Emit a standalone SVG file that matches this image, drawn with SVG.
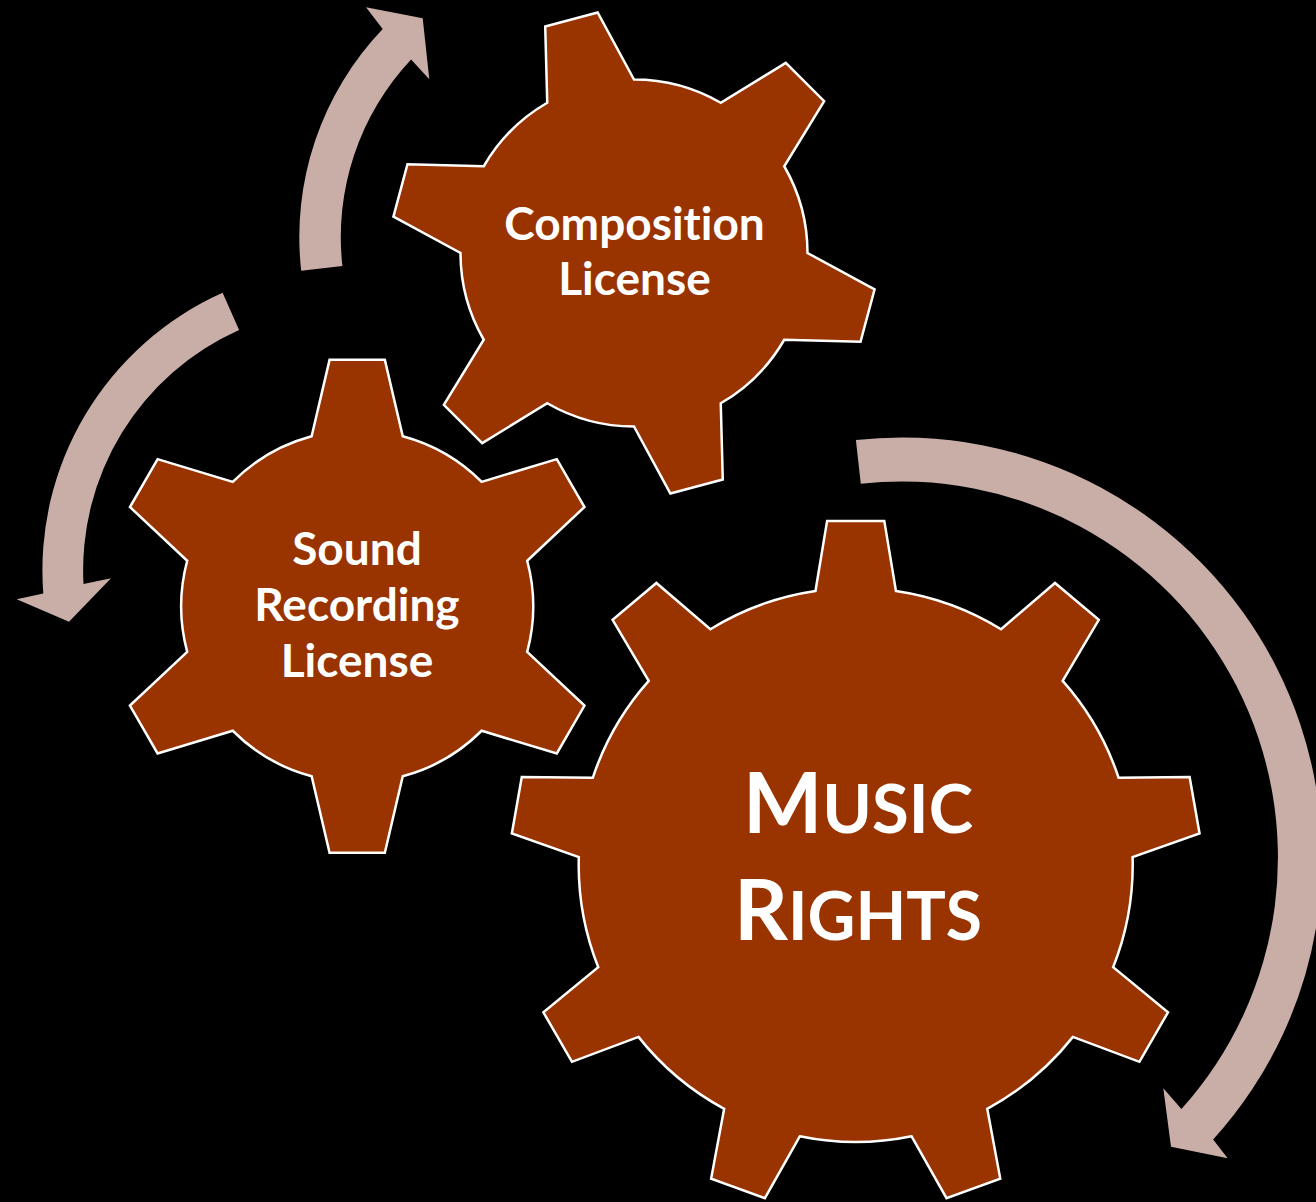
<svg xmlns="http://www.w3.org/2000/svg" width="1316" height="1202" viewBox="0 0 1316 1202">
<style>
.gear{fill:#993300;stroke:#ffffff;stroke-width:2.5;stroke-linejoin:miter}
.arrow{fill:#C9AEA8;stroke:none}
.lbl{font-family:Lato,"Open Sans","Liberation Sans",sans-serif;font-weight:700;fill:#ffffff;text-anchor:middle;font-variant-ligatures:none;font-feature-settings:"liga" 0,"clig" 0}
</style>
<rect x="0" y="0" width="1316" height="1202" fill="#000000"/>
<g id="connectors">
<path class="arrow" d="M855.9,440 A420,420 0 0 1 1213.1,1139.6 L1227.7,1158.3 L1171,1146.7 L1163.3,1088.3 L1181.4,1109.1 A376,376 0 0 0 860.8,483.8 Z"/>
<path class="arrow" d="M301.2,270.7 A301,301 0 0 1 382.7,29.1 L366,7.3 L422.7,18.3 L429.3,79.3 L411.1,59.5 A259.5,259.5 0 0 0 342.4,266 Z"/>
<path class="arrow" d="M222.6,292.8 A303.7,303.7 0 0 0 43.3,593.5 L16.7,599.3 L69,621.7 L111,578.3 L83.5,584 A263,263 0 0 1 239.1,329.9 Z"/>
</g>
<g id="gear-composition">
<path class="gear" d="M547.25,102.75 L545.22,26.47 L597.62,12.43 L634,79.5 A173.5,173.5 0 0 1 720.75,102.75 L785.79,62.86 L824.14,101.21 L784.25,166.25 A173.5,173.5 0 0 1 807.5,253 L874.57,289.38 L860.53,341.78 L784.25,339.75 A173.5,173.5 0 0 1 720.75,403.25 L722.78,479.53 L670.38,493.57 L634,426.5 A173.5,173.5 0 0 1 547.25,403.25 L482.21,443.14 L443.86,404.79 L483.75,339.75 A173.5,173.5 0 0 1 460.5,253 L393.43,216.62 L407.47,164.22 L483.75,166.25 A173.5,173.5 0 0 1 547.25,102.75 Z"/>
<text class="lbl" font-size="46"><tspan x="634.5" y="239.5">Composition</tspan><tspan x="634.5" y="295">License</tspan></text>
</g>
<g id="gear-sound">
<path class="gear" d="M311.65,436.3 L329.56,359.85 L384.84,359.85 L402.75,436.3 A176,176 0 0 1 481.65,481.85 L556.81,459.13 L584.46,507.01 L527.2,560.75 A176,176 0 0 1 527.2,651.85 L584.46,705.59 L556.81,753.47 L481.65,730.75 A176,176 0 0 1 402.75,776.3 L384.84,852.75 L329.56,852.75 L311.65,776.3 A176,176 0 0 1 232.75,730.75 L157.59,753.47 L129.94,705.59 L187.2,651.85 A176,176 0 0 1 187.2,560.75 L129.94,507.01 L157.59,459.13 L232.75,481.85 A176,176 0 0 1 311.65,436.3 Z"/>
<text class="lbl" font-size="46"><tspan x="357" y="565">Sound</tspan><tspan x="357" y="620.7">Recording</tspan><tspan x="357" y="676.5">License</tspan></text>
</g>
<g id="gear-music">
<path class="gear" d="M815.47,590.94 L827.11,520.88 L884.29,520.88 L895.93,590.94 A277,277 0 0 1 1001.05,629.2 L1054.99,583.01 L1098.8,619.77 L1062.68,680.91 A277,277 0 0 1 1118.61,777.79 L1189.62,777.08 L1199.55,833.41 L1132.59,857.02 A277,277 0 0 1 1113.16,967.19 L1168.01,1012.29 L1139.42,1061.82 L1072.93,1036.87 A277,277 0 0 1 987.24,1108.78 L1000.26,1178.58 L946.52,1198.14 L911.63,1136.29 A277,277 0 0 1 799.77,1136.29 L764.88,1198.14 L711.14,1178.58 L724.16,1108.78 A277,277 0 0 1 638.47,1036.87 L571.98,1061.82 L543.39,1012.29 L598.24,967.19 A277,277 0 0 1 578.81,857.02 L511.85,833.41 L521.78,777.08 L592.79,777.79 A277,277 0 0 1 648.72,680.91 L612.6,619.77 L656.41,583.01 L710.35,629.2 A277,277 0 0 1 815.47,590.94 Z"/>
<text class="lbl" x="858" y="833.3"><tspan font-size="84">M</tspan><tspan font-size="67">USIC</tspan></text>
<text class="lbl" x="858" y="939.5"><tspan font-size="84">R</tspan><tspan font-size="66">IGHTS</tspan></text>
</g>
</svg>
